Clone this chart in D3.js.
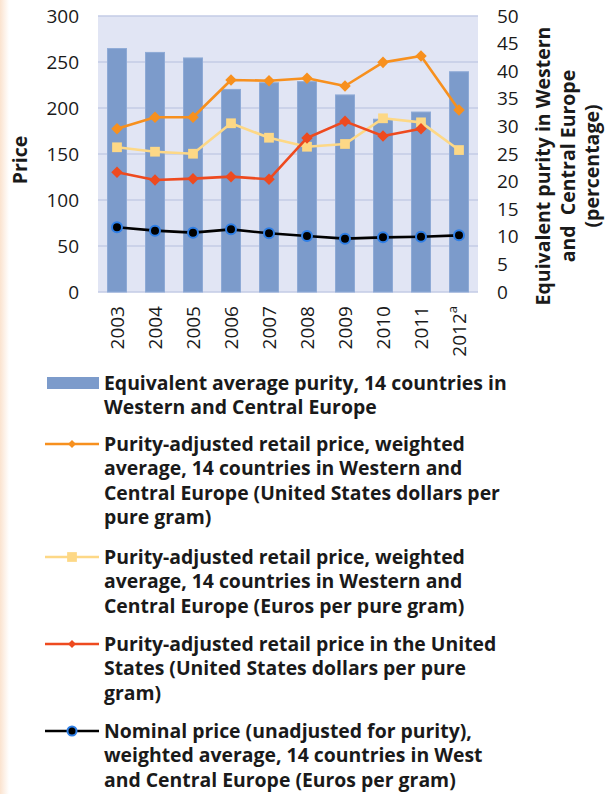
<!DOCTYPE html>
<html>
<head>
<meta charset="utf-8">
<script src="https://cdn.jsdelivr.net/npm/d3@7"></script>
<style>
  html, body { margin: 0; padding: 0; background: #fff; }
  svg { display: block; font-family: "Open Sans", "Noto Sans", sans-serif; }
</style>
</head>
<body>
<svg id="chart" width="607" height="794"></svg>
<script>
// Years on the category axis (the last one is provisional, marked "a")
const years = ["2003", "2004", "2005", "2006", "2007", "2008", "2009", "2010", "2011", "2012"];

// Equivalent average purity, % (bars, right axis)
const purity = [44.1, 43.4, 42.4, 36.7, 37.9, 38.1, 35.7, 31.3, 32.6, 39.9];

// Purity-adjusted retail price, W&C Europe, USD per pure gram
const priceUsdEurope = [177.5, 190, 190, 230.4, 229.7, 232.3, 223.9, 249.6, 256.5, 197.8];

// Purity-adjusted retail price, W&C Europe, EUR per pure gram
const priceEurEurope = [157.3, 152.5, 150.3, 183.4, 167.7, 157.9, 160.9, 188.8, 184.4, 154.3];

// Purity-adjusted retail price in the United States, USD per pure gram (no 2012 value)
const priceUsdUS = [130.1, 121.7, 123.2, 125.4, 122.5, 167.4, 185.5, 169.6, 177.5, null];

// Nominal price, W&C Europe, EUR per gram
const priceNominal = [70.3, 66.7, 64.5, 68.1, 63.8, 60.9, 58.0, 59.4, 60.1, 61.6];

const leftTicks = [0, 50, 100, 150, 200, 250, 300];
const rightTicks = [0, 5, 10, 15, 20, 25, 30, 35, 40, 45, 50];

const legendBar = ["Equivalent average purity, 14 countries in", "Western and Central Europe"];
const legendUsdEurope = ["Purity-adjusted retail price, weighted", "average, 14 countries in Western and", "Central Europe (United States dollars per", "pure gram)"];
const legendEurEurope = ["Purity-adjusted retail price, weighted", "average, 14 countries in Western and", "Central Europe (Euros per pure gram)"];
const legendUS = ["Purity-adjusted retail price in the United", "States (United States dollars per pure", "gram)"];
const legendNominal = ["Nominal price (unadjusted for purity),", "weighted average, 14 countries in West", "and Central Europe (Euros per gram)"];

const svg = d3.select("#chart");
const plot = { left: 98, right: 478, top: 16, bottom: 292 };
const textColor = "#1a1a1a";

// faint tinted strip along the left page edge
const defs = svg.append("defs");
const grad = defs.append("linearGradient").attr("id", "edge").attr("x1", 0).attr("x2", 1);
grad.append("stop").attr("offset", 0).attr("stop-color", "#fbe3cf");
grad.append("stop").attr("offset", 1).attr("stop-color", "#ffffff");
svg.append("rect").attr("x", 0).attr("y", 0).attr("width", 9).attr("height", 794).attr("fill", "url(#edge)");

const x = d3.scaleBand().domain(years).range([plot.left, plot.right]).paddingInner(0.5).paddingOuter(0.25);
const yL = d3.scaleLinear().domain([0, 300]).range([plot.bottom, plot.top]);
const yR = d3.scaleLinear().domain([0, 50]).range([plot.bottom, plot.top]);

// plot background
svg.append("rect")
  .attr("x", plot.left).attr("y", plot.top)
  .attr("width", plot.right - plot.left).attr("height", plot.bottom - plot.top)
  .attr("fill", "#e1e5f4");

// horizontal gridlines
svg.append("g").selectAll("line").data(leftTicks).join("line")
  .attr("x1", plot.left).attr("x2", plot.right)
  .attr("y1", d => yL(d)).attr("y2", d => yL(d))
  .attr("stroke", "#c3cbe6").attr("stroke-width", 1.5);

// purity bars
svg.append("g").selectAll("rect").data(years).join("rect")
  .attr("x", d => x(d)).attr("width", x.bandwidth())
  .attr("y", (d, i) => yR(purity[i]))
  .attr("height", (d, i) => yR(0) - yR(purity[i]))
  .attr("fill", "#7c9bcb").attr("stroke", "#8eaad6").attr("stroke-width", 1);

// left axis
const leftAxis = d3.axisLeft(yL).tickValues(leftTicks).tickSize(0).tickPadding(0);
const gL = svg.append("g").attr("transform", `translate(${plot.left - 19},0)`).call(leftAxis);
gL.select(".domain").remove();
gL.selectAll("text").attr("font-size", 19).attr("fill", textColor).attr("font-family", "Open Sans");

// right axis
const rightAxis = d3.axisRight(yR).tickValues(rightTicks).tickSize(0).tickPadding(0);
const gR = svg.append("g").attr("transform", `translate(${plot.right + 19},0)`).call(rightAxis);
gR.select(".domain").remove();
gR.selectAll("text").attr("font-size", 19).attr("fill", textColor).attr("font-family", "Open Sans");

// category labels, rotated
const xLabels = svg.append("g").selectAll("text").data(years).join("text")
  .attr("transform", d => `translate(${x(d) + x.bandwidth() / 2},306) rotate(-90)`)
  .attr("text-anchor", "end").attr("dy", "0.36em")
  .attr("font-size", 19).attr("fill", textColor);
xLabels.append("tspan").text(d => d);
xLabels.filter(d => d === "2012").append("tspan")
  .attr("font-size", 13).attr("baseline-shift", "super").text("a");

// axis titles
svg.append("text")
  .attr("transform", `translate(20,${(plot.top + plot.bottom) / 2 + 6}) rotate(-90)`)
  .attr("text-anchor", "middle").attr("dy", "0.36em")
  .attr("font-size", 19.5).attr("font-weight", "bold").attr("fill", textColor)
  .text("Price");

const rTitle = ["Equivalent purity in Western", "and  Central Europe", "(percentage)"];
svg.append("g").selectAll("text").data(rTitle).join("text")
  .attr("transform", (d, i) => `translate(${543 + i * 24.5},166) rotate(-90)`)
  .attr("text-anchor", "middle").attr("dy", "0.36em")
  .attr("font-size", 19.5).attr("font-weight", "bold").attr("fill", textColor)
  .style("white-space", "pre")
  .text(d => d);

// marker helpers
const diamond = d3.symbol().type(d3.symbolDiamond2);
const square = d3.symbol().type(d3.symbolSquare2);

const series = [
  { values: priceUsdEurope, color: "#f7901e", marker: "diamond", size: 13, legend: legendUsdEurope },
  { values: priceEurEurope, color: "#fdd886", marker: "square", size: 11, legend: legendEurEurope },
  { values: priceUsdUS, color: "#ee4a1f", marker: "diamond", size: 13, legend: legendUS },
  { values: priceNominal, color: "#000000", marker: "circle", size: 5, legend: legendNominal }
];

function drawMarker(g, s, cx, cy, small) {
  if (s.marker === "circle") {
    g.append("circle").attr("cx", cx).attr("cy", cy).attr("r", small ? 4.5 : s.size)
      .attr("fill", "#000").attr("stroke", "#2f7fe6").attr("stroke-width", 2);
  } else if (s.marker === "diamond") {
    const sz = small ? 9 : s.size;
    g.append("path").attr("d", diamond.size(sz * sz / 2)())
      .attr("transform", `translate(${cx},${cy})`).attr("fill", s.color);
  } else {
    const sz = small ? 11 : s.size;
    g.append("path").attr("d", square.size(sz * sz)())
      .attr("transform", `translate(${cx},${cy})`).attr("fill", s.color);
  }
}

const cxOf = d => x(d) + x.bandwidth() / 2;
series.forEach(s => {
  const pts = years.map((yr, i) => ({ yr, v: s.values[i] }));
  const line = d3.line().defined(d => d.v != null).x(d => cxOf(d.yr)).y(d => yL(d.v));
  const g = svg.append("g");
  g.append("path").datum(pts).attr("d", line)
    .attr("fill", "none").attr("stroke", s.color).attr("stroke-width", 2.6)
    .attr("stroke-linejoin", "round");
  pts.filter(d => d.v != null).forEach(d => drawMarker(g, s, cxOf(d.yr), yL(d.v), false));
});

// legend
const legend = svg.append("g");
const lineH = 24.4;
const textX = 104;
function legendText(lines, y0) {
  legend.append("g").selectAll("text").data(lines).join("text")
    .attr("x", textX).attr("y", (d, i) => y0 + i * lineH)
    .attr("dy", "0.36em")
    .attr("font-size", 19.4).attr("font-weight", "bold").attr("fill", textColor)
    .text(d => d);
}
legend.append("rect").attr("x", 47).attr("y", 377).attr("width", 52).attr("height", 12).attr("fill", "#7c9bcb");
legendText(legendBar, 383);

const legendY = [444, 557, 644, 731];
series.forEach((s, k) => {
  const yy = legendY[k];
  const g = legend.append("g");
  g.append("line").attr("x1", 45).attr("x2", 99).attr("y1", yy).attr("y2", yy)
    .attr("stroke", s.color).attr("stroke-width", 2.6);
  drawMarker(g, s, 72, yy, true);
  legendText(s.legend, yy);
});
</script>
</body>
</html>
